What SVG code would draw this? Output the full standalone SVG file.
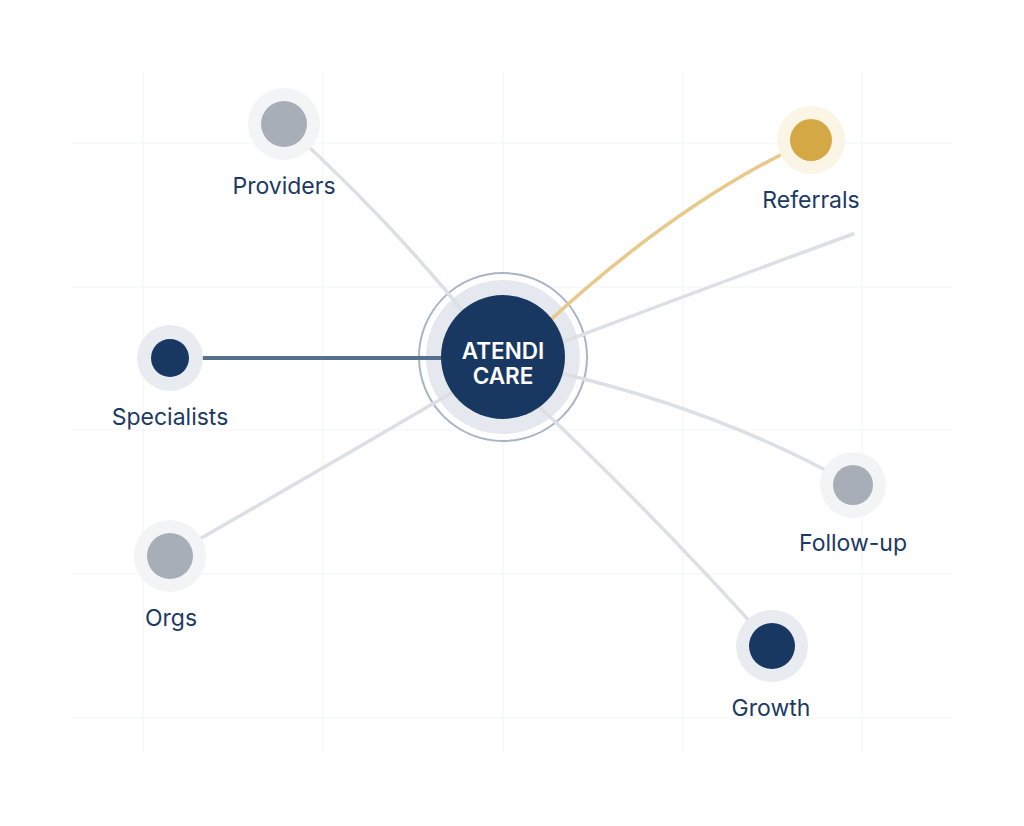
<svg xmlns="http://www.w3.org/2000/svg" width="1024" height="826" viewBox="0 0 1024 826">
<style>
.grid{stroke:#f2f4f6;stroke-width:1}
.lbl{font-family:Inter,"Liberation Sans",sans-serif;font-size:23px;fill:#1b3a64;text-anchor:middle}
.conn{fill:none;stroke:#dcdfe4;stroke-width:3.5;stroke-linecap:round}
.halo{fill:#f3f4f6}
.gray{fill:#a8aeb8}
.navy{fill:#183862}
</style>
<rect width="1024" height="826" fill="#fff"/>
<g id="grid">
<line class="grid" x1="143" y1="72" x2="143" y2="752"/><line class="grid" x1="323" y1="72" x2="323" y2="752"/><line class="grid" x1="503" y1="72" x2="503" y2="752"/><line class="grid" x1="683" y1="72" x2="683" y2="752"/><line class="grid" x1="862" y1="72" x2="862" y2="752"/>
<line class="grid" x1="72" y1="143" x2="952" y2="143"/><line class="grid" x1="72" y1="287" x2="952" y2="287"/><line class="grid" x1="72" y1="430" x2="952" y2="430"/><line class="grid" x1="72" y1="574" x2="952" y2="574"/><line class="grid" x1="72" y1="718" x2="952" y2="718"/>
</g>
<g id="center-rings">
<circle cx="503" cy="357" r="84" fill="#fff" stroke="#a9b4c4" stroke-width="2"/>
<circle cx="503" cy="357" r="77" fill="#e5e8ee"/>
</g>
<g id="connectors">
<path class="conn" d="M284,124 Q390,220 470,320"/>
<path class="conn" style="stroke:#e8c98a" d="M811,140 Q680,200 545,325"/>
<path class="conn" d="M853,234 Q700,290 555,345"/>
<line x1="170" y1="358" x2="445" y2="358" stroke="#566f8c" stroke-width="4"/>
<path class="conn" d="M170,556 Q320,470 465,385"/>
<path class="conn" d="M853,485 Q720,410 555,372"/>
<path class="conn" d="M772,646 Q650,510 530,398"/>
</g>
<g id="center">
<circle cx="503" cy="357" r="62" class="navy"/>
<text x="503" y="359" font-family="Inter,'Liberation Sans',sans-serif" font-size="22.5" font-weight="600" fill="#fff" text-anchor="middle">ATENDI</text>
<text x="503" y="384" font-family="Inter,'Liberation Sans',sans-serif" font-size="22.5" font-weight="600" fill="#fff" text-anchor="middle">CARE</text>
</g>
<g id="providers"><circle cx="284" cy="124" r="36" class="halo"/><circle cx="284" cy="124" r="23" class="gray"/><text class="lbl" x="284" y="194">Providers</text></g>
<g id="referrals"><circle cx="811" cy="140" r="34" fill="#fbf5e6"/><circle cx="811" cy="140" r="21" fill="#d5a846"/><text class="lbl" x="811" y="208">Referrals</text></g>
<g id="specialists"><circle cx="170" cy="358" r="33" fill="#e8ebef"/><circle cx="170" cy="358" r="19" class="navy"/><text class="lbl" x="170" y="425">Specialists</text></g>
<g id="orgs"><circle cx="170" cy="556" r="36" class="halo"/><circle cx="170" cy="556" r="23" class="gray"/><text class="lbl" x="171" y="626">Orgs</text></g>
<g id="followup"><circle cx="853" cy="485" r="33" class="halo"/><circle cx="853" cy="485" r="20" class="gray"/><text class="lbl" x="853" y="551">Follow-up</text></g>
<g id="growth"><circle cx="772" cy="646" r="36" fill="#e8ebef"/><circle cx="772" cy="646" r="23" class="navy"/><text class="lbl" x="771" y="716">Growth</text></g>
</svg>
